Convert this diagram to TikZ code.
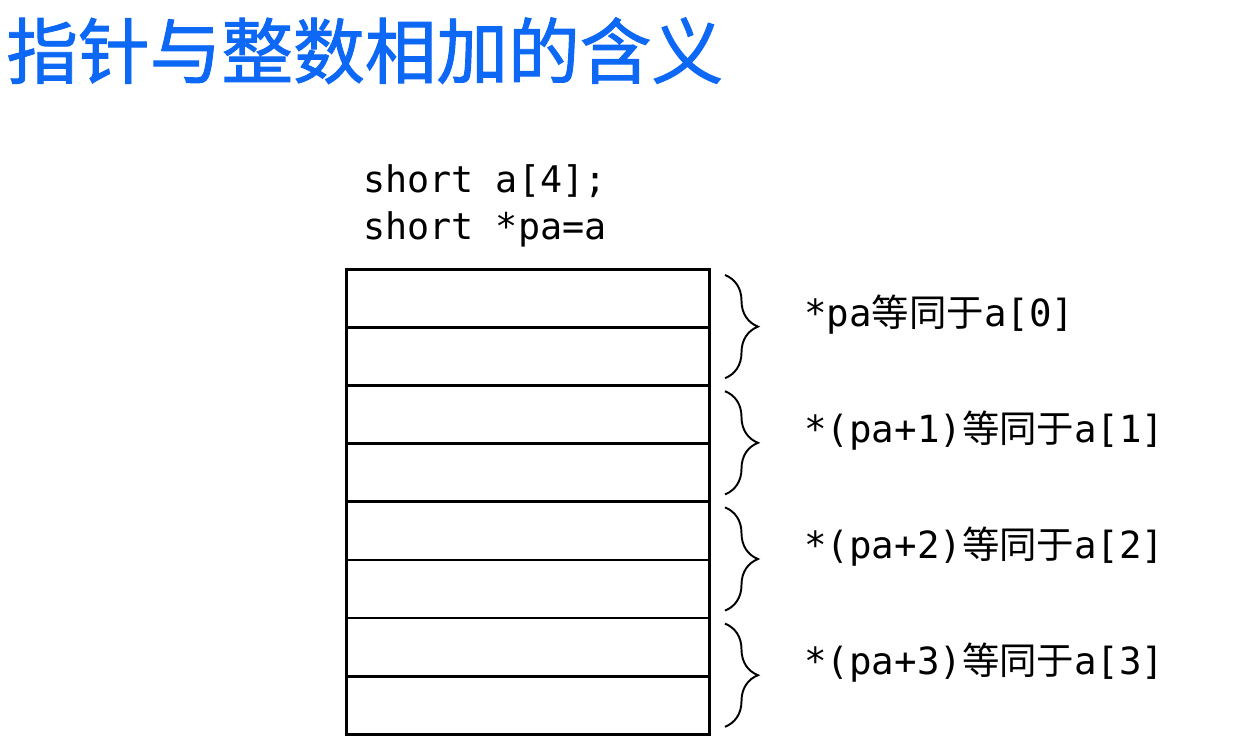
\documentclass[tikz,border=0pt]{standalone}
\usepackage{fontspec}
\setmonofont{DejaVu Sans Mono}
\newfontfamily\cjk{Noto Sans CJK SC}
\newfontfamily\titlefont[FakeBold=1.3]{Noto Sans CJK SC}
\usetikzlibrary{decorations.pathreplacing}
\definecolor{titleblue}{RGB}{12,104,245}

\begin{document}
\begin{tikzpicture}[x=0.02cm, y=-0.02cm]
\useasboundingbox (0,0) rectangle (1251,751);
\def \left {345}
\def \right {708}
\def \top {268}
\def \rowh {58.1}

% title
\node[anchor=base west, inner sep=0, text=titleblue, font=\titlefont\fontsize{40.8}{46}\selectfont]
  (title) at (6,78) {指针与整数相加的含义};

% declarations
\node[anchor=base west, inner sep=0, font=\ttfamily\fontsize{20.9}{24}\selectfont]
  (decl1) at (363,192) {short a[4];};
\node[anchor=base west, inner sep=0, font=\ttfamily\fontsize{20.9}{24}\selectfont]
  (decl2) at (363,239) {short *pa=a};

% memory cells
\foreach \s in {1,...,8}
{
  \node[draw, line width=1.6pt, minimum width=363*0.02cm, minimum height=\rowh*0.02cm,
    anchor=north west, inner sep=0] (r\s) at (\left,{\top + \rowh*(\s-1)}) {};
}

% braces and meanings
\foreach \s/\txt in {0/{\texttt{*pa}},1/{\texttt{*(pa+1)}},2/{\texttt{*(pa+2)}},3/{\texttt{*(pa+3)}}}
{
  \coordinate (b\s a) at (725,{\top + 2*\rowh*\s + 7});
  \coordinate (b\s b) at (725,{\top + 2*\rowh*(\s+1) - 6});
  \draw[line width=1.1pt, decorate, decoration={brace, amplitude=0.66cm}] (b\s a) -- (b\s b);
  \node[anchor=west, inner sep=0, font=\fontsize{21.3}{25}\selectfont]
    (m\s) at (804,{\top + 2*\rowh*\s + \rowh - 12}) {\txt{\cjk 等同于}\texttt{a[\s]}};
}
\end{tikzpicture}
\end{document}
